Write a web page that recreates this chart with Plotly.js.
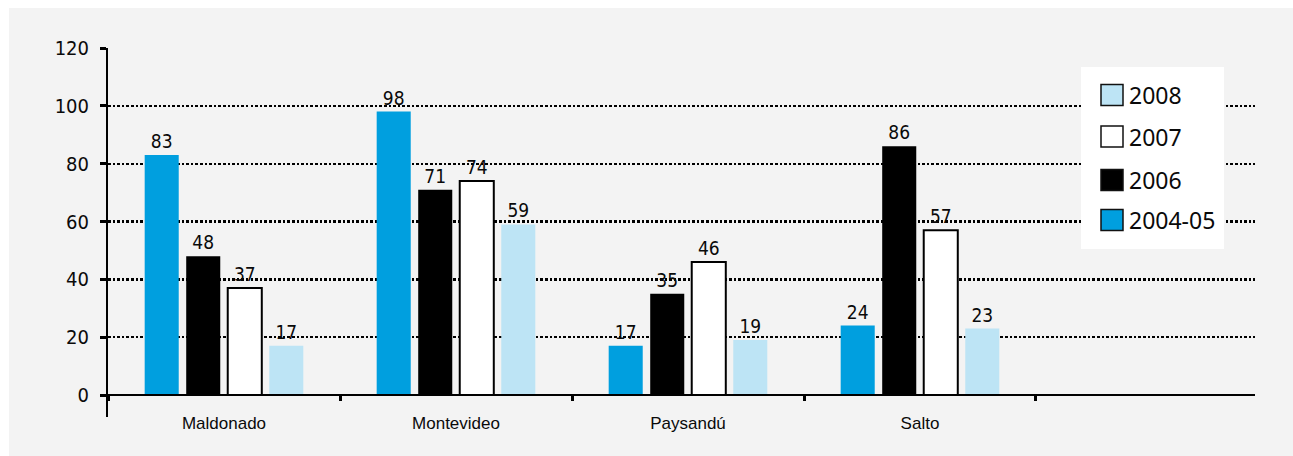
<!DOCTYPE html>
<html>
<head>
<meta charset="utf-8">
<script src="https://cdn.plot.ly/plotly-3.0.1.min.js"></script>
<style>
  html, body { margin: 0; padding: 0; background: #ffffff; }
  #chart { position: absolute; left: 9px; top: 8px; width: 1284px; height: 448px; }
</style>
</head>
<body>
<div id="chart"></div>
<script>
// Departments on the category axis
const departments = ['Maldonado', 'Montevideo', 'Paysandú', 'Salto'];

// Series, one value per department
const seriesNames = ['2004-05', '2006', '2007', '2008'];
const values2004_05 = [83, 98, 17, 24];
const values2006 = [48, 71, 35, 86];
const values2007 = [37, 74, 46, 57];
const values2008 = [17, 59, 19, 23];

// Y axis ticks
const yTicks = [0, 20, 40, 60, 80, 100, 120];

const seriesValues = [values2004_05, values2006, values2007, values2008];
const fills = ['#009fdf', '#000000', '#ffffff', '#bde4f5'];
const outlines = [0, 0, 2, 0];

const FONT = '"Noto Sans", "DejaVu Sans", sans-serif';
const NARROW = '"Liberation Sans Narrow", "DejaVu Sans Condensed", sans-serif';
const REGULAR = '"Liberation Sans", Arial, sans-serif';
const TEXT = '#0a0a0a';

// plot geometry (pixels within the chart div)
const W = 1284, H = 448;
const M = { l: 99, r: 38, t: 40, b: 39 };
const plotW = W - M.l - M.r, plotH = H - M.t - M.b;

const yRange = [-7.6, 120];
const xRange = [-0.5, 4.444];
const zeroPos = (0 - yRange[0]) / (yRange[1] - yRange[0]);

const traces = seriesNames.map((name, i) => ({
  type: 'bar',
  name: name,
  x: departments,
  y: seriesValues[i],
  marker: { color: fills[i], line: { color: '#000000', width: outlines[i] } },
  text: seriesValues[i].map(String),
  textposition: 'outside',
  textfont: { family: NARROW, size: 19, color: TEXT },
  cliponaxis: false,
  showlegend: false,
  hoverinfo: 'x+y+name'
}));

// page-pixel helpers for the legend panel
const px = (x) => (x - 9 - M.l) / plotW;
const py = (y) => 1 - (y - 8 - M.t) / plotH;

const shapes = [{
  type: 'rect', xref: 'paper', yref: 'paper', layer: 'above',
  x0: px(1081), x1: px(1224), y0: py(249), y1: py(67),
  fillcolor: '#ffffff', line: { width: 0 }
}];
const annotations = [];

// legend lists the series last-to-first
const legendOrder = seriesNames.map((_, i) => i).reverse();
const rowY = [95, 136.5, 180, 220];
legendOrder.forEach((si, row) => {
  const cy = rowY[row];
  shapes.push({
    type: 'rect', xref: 'paper', yref: 'paper', layer: 'above',
    x0: px(1101), x1: px(1123), y0: py(cy + 10.5), y1: py(cy - 10.5),
    fillcolor: fills[si], line: { color: '#111111', width: 1.5 }
  });
  annotations.push({
    xref: 'paper', yref: 'paper', x: px(1127), y: py(cy),
    xanchor: 'left', yanchor: 'middle', showarrow: false,
    text: seriesNames[si],
    font: { family: FONT, size: 23, color: TEXT }
  });
});

const layout = {
  width: W, height: H,
  margin: M,
  paper_bgcolor: '#f3f3f3',
  plot_bgcolor: '#f3f3f3',
  barmode: 'group',
  bargap: 0.284,
  bargroupgap: 0.18,
  showlegend: false,
  font: { family: FONT, color: TEXT },
  xaxis: {
    type: 'category',
    range: xRange,
    anchor: 'free',
    position: zeroPos,
    showline: true, linecolor: '#000000', linewidth: 2,
    showgrid: false, zeroline: false,
    ticks: 'outside', tickson: 'boundaries', ticklen: 5, tickwidth: 3, tickcolor: '#000000',
    ticklabelstandoff: 13,
    tickfont: { family: REGULAR, size: 17, color: TEXT },
    fixedrange: true
  },
  yaxis: {
    range: yRange,
    tickvals: yTicks,
    ticktext: yTicks.map(String),
    showline: true, linecolor: '#000000', linewidth: 2,
    ticks: 'outside', ticklen: 6, tickwidth: 3, tickcolor: '#000000',
    ticklabelstandoff: 7,
    showgrid: true, gridcolor: '#000000', gridwidth: 2.3, griddash: '2.5px,2.1px',
    zeroline: false,
    tickfont: { family: NARROW, size: 20, color: TEXT },
    fixedrange: true
  },
  shapes: shapes,
  annotations: annotations
};

Plotly.newPlot('chart', traces, layout, { displayModeBar: false, staticPlot: true });
</script>
</body>
</html>
